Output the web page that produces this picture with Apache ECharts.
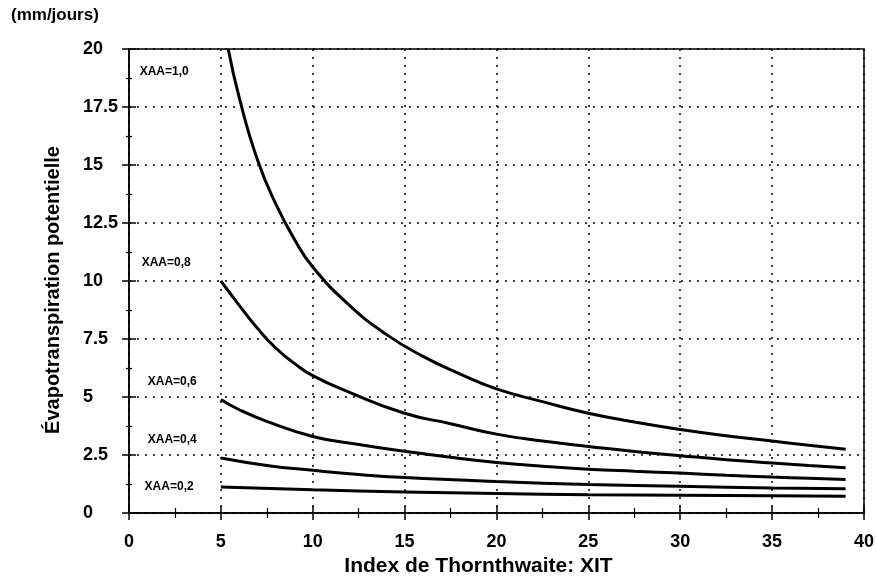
<!DOCTYPE html>
<html>
<head>
<meta charset="utf-8">
<script src="https://cdn.jsdelivr.net/npm/echarts@6/dist/echarts.min.js"></script>
<style>
  html, body { margin: 0; padding: 0; background: #fff; }
  #chart { width: 877px; height: 583px; }
</style>
</head>
<body>
<div id="chart"></div>
<script>
// values (XIT -> ETP in mm/jours)
const xit10 = [5.4, 6, 7, 8, 9, 10, 12, 14, 16, 18, 20, 22.5, 25, 27.5, 30, 32.5, 35, 37, 39];
const etp10 = [20, 17.9, 15.2, 13.3, 11.8, 10.6, 8.95, 7.7, 6.75, 6.0, 5.35, 4.8, 4.3, 3.92, 3.6, 3.33, 3.1, 2.92, 2.75];

const xit08 = [5, 6, 7, 8, 9, 10, 12, 15, 17.5, 20, 22.5, 25, 27.5, 30, 32.5, 35, 37, 39];
const etp08 = [10, 8.95, 7.95, 7.1, 6.45, 5.92, 5.2, 4.3, 3.85, 3.4, 3.1, 2.87, 2.65, 2.47, 2.3, 2.16, 2.05, 1.95];

const xit06 = [5, 6, 7.5, 10, 12.5, 15, 17.5, 20, 22.5, 25, 27.5, 30, 32.5, 35, 37, 39];
const etp06 = [4.89, 4.45, 3.95, 3.3, 2.95, 2.66, 2.4, 2.18, 2.02, 1.89, 1.8, 1.72, 1.63, 1.55, 1.5, 1.44];

const xit04 = [5, 7.5, 10, 12.5, 15, 20, 25, 30, 35, 39];
const etp04 = [2.37, 2.05, 1.84, 1.66, 1.53, 1.36, 1.23, 1.15, 1.08, 1.04];

const xit02 = [5, 10, 15, 20, 25, 30, 35, 39];
const etp02 = [1.12, 1.0, 0.91, 0.84, 0.79, 0.77, 0.74, 0.72];

const seriesNames = ['XAA=1,0', 'XAA=0,8', 'XAA=0,6', 'XAA=0,4', 'XAA=0,2'];
const seriesX = [xit10, xit08, xit06, xit04, xit02];
const seriesY = [etp10, etp08, etp06, etp04, etp02];

// curve labels, anchored in data coordinates
const labelX = [0.58, 0.69, 1.02, 1.02, 0.85];
const labelY = [19.03, 10.79, 5.67, 3.16, 1.13];

const FONT = '"Liberation Sans", Arial, sans-serif';

const chart = echarts.init(document.getElementById('chart'), null, { renderer: 'canvas' });

const xBase = { type: 'value', min: 0, max: 40, interval: 5, gridIndex: 0, position: 'bottom' };
const yBase = { type: 'value', min: 0, max: 20, interval: 2.5, gridIndex: 0, position: 'left' };
const axisLine = { show: true, onZero: false, lineStyle: { color: '#000', width: 1.5 } };
const dotted = { show: true, lineStyle: { color: '#000', width: 1.5, type: [2, 6] } };

const option = {
  animation: false,
  backgroundColor: '#fff',
  grid: {
    left: 129, right: 10, top: 49, bottom: 70,
    show: true, borderColor: '#000', borderWidth: 1.5, backgroundColor: 'transparent'
  },
  xAxis: [
    Object.assign({}, xBase, {
      name: 'Index de Thornthwaite: XIT',
      nameLocation: 'middle',
      nameGap: 43,
      nameTextStyle: { fontFamily: FONT, fontWeight: 'bold', fontSize: 21, color: '#000', padding: [0, 36, 0, 0] },
      axisLine: axisLine,
      axisTick: { show: true, inside: false, length: 7, lineStyle: { color: '#000', width: 1.5 } },
      minorTick: { show: true, splitNumber: 2, length: 5, lineStyle: { color: '#000', width: 1.2 } },
      axisLabel: { fontFamily: FONT, fontWeight: 'bold', fontSize: 18, color: '#000', margin: 20 },
      splitLine: dotted
    }),
    Object.assign({}, xBase, {
      axisLine: { show: false },
      axisTick: { show: true, inside: true, length: 7, lineStyle: { color: '#000', width: 1.5 } },
      minorTick: { show: true, splitNumber: 2, length: 5, lineStyle: { color: '#000', width: 1.2 } },
      axisLabel: { show: false },
      splitLine: { show: false }
    })
  ],
  yAxis: [
    Object.assign({}, yBase, {
      axisLine: axisLine,
      axisTick: { show: true, inside: false, length: 7, lineStyle: { color: '#000', width: 1.5 } },
      minorTick: { show: true, splitNumber: 2, length: 3, lineStyle: { color: '#000', width: 1.2 } },
      axisLabel: { fontFamily: FONT, fontWeight: 'bold', fontSize: 18, color: '#000', align: 'left', margin: 46 },
      splitLine: dotted
    }),
    Object.assign({}, yBase, {
      axisLine: { show: false },
      axisTick: { show: true, inside: true, length: 7, lineStyle: { color: '#000', width: 1.5 } },
      minorTick: { show: true, splitNumber: 2, length: 3, lineStyle: { color: '#000', width: 1.2 } },
      axisLabel: { show: false },
      splitLine: { show: false }
    })
  ],
  series: seriesNames.map((name, i) => ({
    name: name,
    type: 'line',
    xAxisIndex: 0,
    yAxisIndex: 0,
    smooth: 0.5,
    symbol: 'none',
    clip: true,
    lineStyle: { color: '#000', width: 3 },
    data: seriesX[i].map((x, j) => [x, seriesY[i][j]])
  })),
  graphic: [
    {
      type: 'text',
      left: 11,
      top: 7,
      style: { text: '(mm/jours)', fontFamily: FONT, fontWeight: 'bold', fontSize: 17, fill: '#000' }
    },
    {
      type: 'text',
      x: 53,
      y: 290,
      rotation: Math.PI / 2,
      style: {
        text: 'Évapotranspiration potentielle', fontFamily: FONT, fontWeight: 'bold', fontSize: 20,
        fill: '#000', align: 'center', verticalAlign: 'middle'
      }
    }
  ]
};

chart.setOption(option);

// curve names placed from data coordinates
const labels = seriesNames.map((name, i) => {
  const p = chart.convertToPixel({ gridIndex: 0 }, [labelX[i], labelY[i]]);
  return {
    type: 'text',
    x: p[0],
    y: p[1],
    style: {
      text: name, fontFamily: FONT, fontWeight: 'bold', fontSize: 12, fill: '#000',
      align: 'left', verticalAlign: 'middle'
    }
  };
});
chart.setOption({ graphic: option.graphic.concat(labels) });
</script>
</body>
</html>
